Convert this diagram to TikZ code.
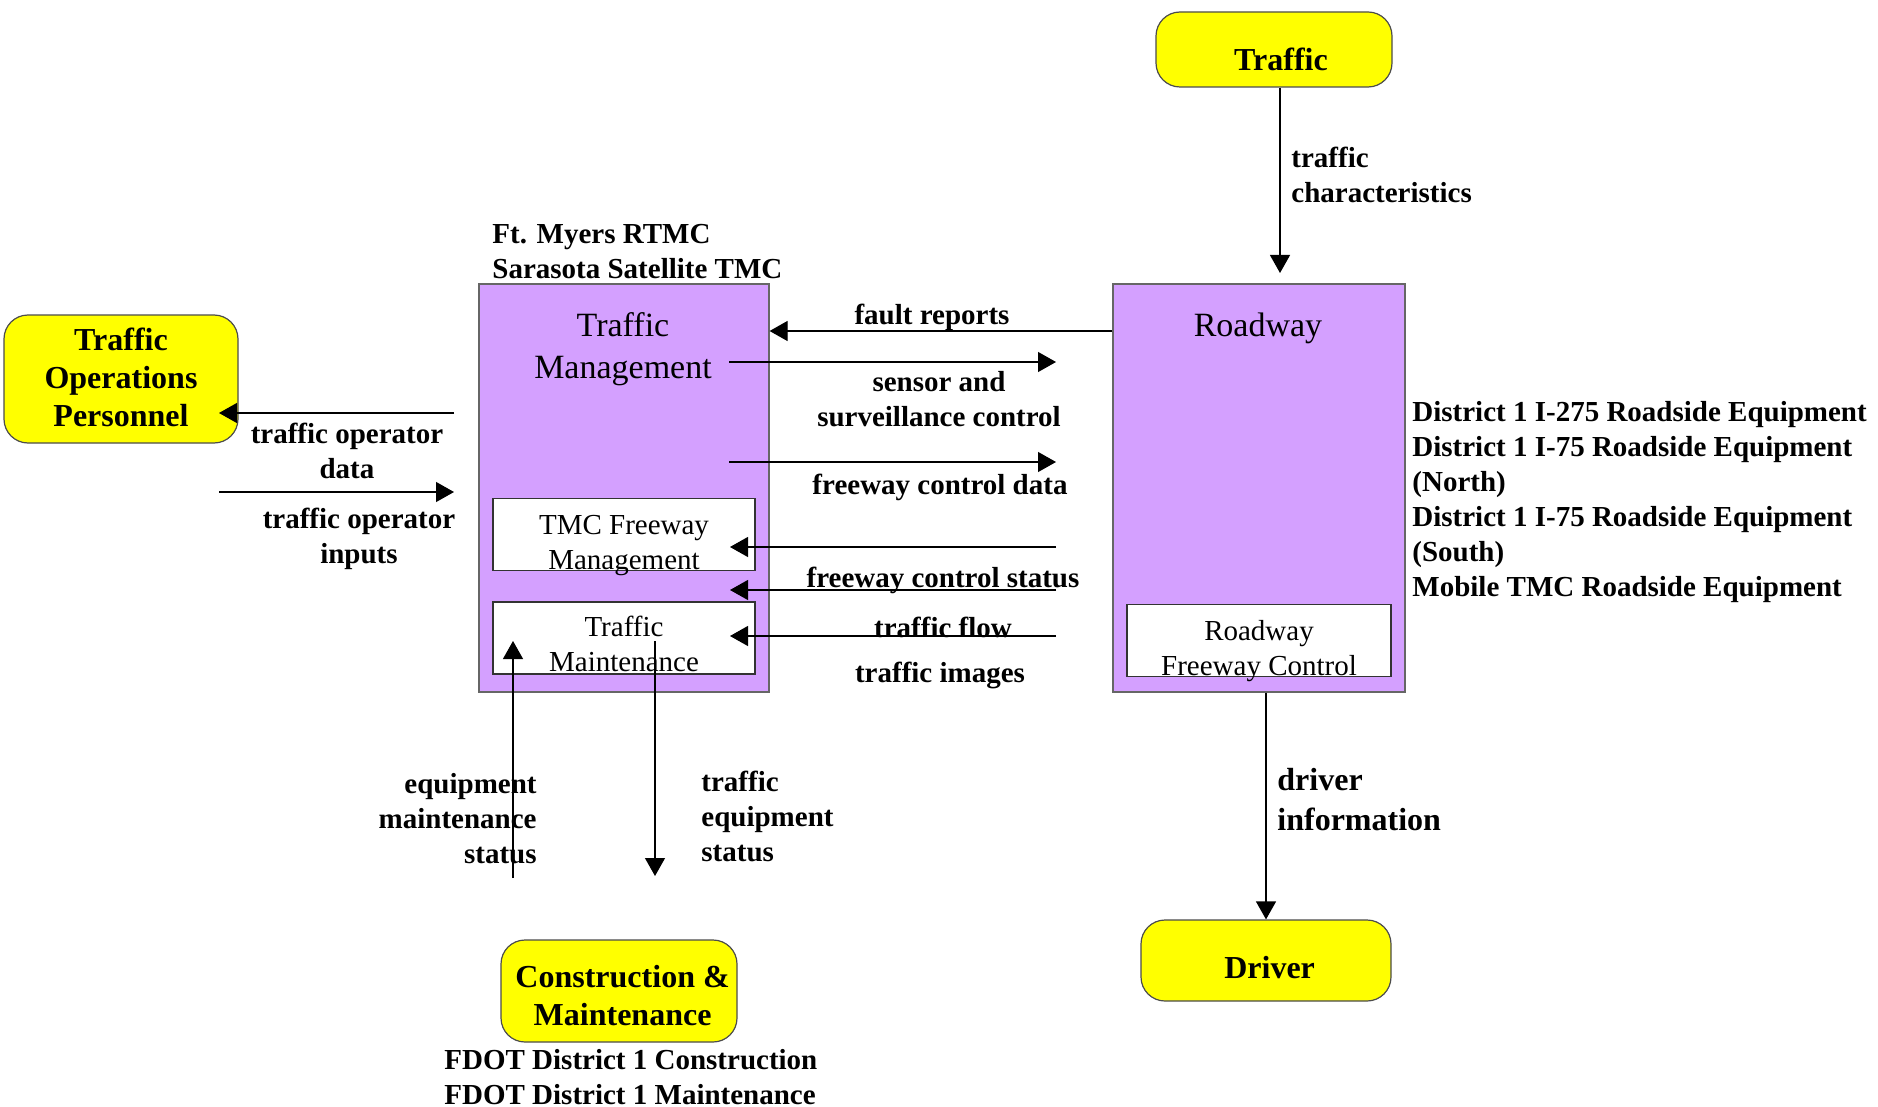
\documentclass[tikz,border=0pt]{standalone}
\usepackage{fontspec}
\setmainfont{Liberation Serif}
\usetikzlibrary{arrows.meta}

\definecolor{sysviolet}{RGB}{212,160,255}
\definecolor{termyellow}{RGB}{255,255,0}

\tikzset{
	flow/.style={line width=0.6pt, -{Triangle[length=9pt,width=10pt]}},
	sysbox/.style={draw=black!60, line width=0.6pt, fill=sysviolet, minimum width=145pt, minimum height=204pt},
	subbox/.style={draw=black!80, line width=0.6pt, fill=white, minimum width=131pt, minimum height=36pt, inner sep=0pt},
	subtext/.style={align=center, inner sep=0pt, font=\fontsize{14.5}{17.5}\selectfont},
	systitle/.style={align=center, inner sep=0pt, font=\fontsize{17}{21}\selectfont},
	term/.style={draw=black!70, line width=0.6pt, fill=termyellow, rounded corners=12pt, inner sep=2pt},
	termtext/.style={align=center, inner sep=0pt, font=\fontsize{16}{19}\selectfont\bfseries},
	flowlabel/.style={align=center, inner sep=0pt, font=\fontsize{14.5}{17.5}\selectfont\bfseries},
}

\begin{document}
\begin{tikzpicture}[x=0.5pt,y=-0.5pt]
	\useasboundingbox (0,0) rectangle (1878,1107);

	% terminators
	\node[term, minimum width=118pt, minimum height=37.5pt, label={[termtext, xshift=3.5pt, yshift=-5pt]center:Traffic}] (traffic) at (1274,49.5) {};
	\node[term, minimum width=117pt, minimum height=64pt, label={[termtext, yshift=1pt]center:Traffic\\Operations\\Personnel}] (oper) at (121,379) {};
	\node[term, minimum width=118pt, minimum height=51pt, label={[termtext, xshift=1.8pt, yshift=-2.5pt]center:Construction \&\\Maintenance}] (cons) at (619,991) {};
	\node[term, minimum width=125pt, minimum height=40.5pt, label={[termtext, xshift=1.8pt, yshift=-3.5pt]center:Driver}] (driver) at (1266,960.5) {};

	% subsystems
	\node[sysbox] (tm) at (624,488) {};
	\node[sysbox, minimum width=146pt] (road) at (1259,488) {};
	\node[systitle] (tmtitle) at (623,349) {Traffic\\Management};
	\node[systitle] (roadtitle) at (1258,328) {Roadway};
	\node[subbox, label={[subtext, yshift=-5.5pt]center:TMC Freeway\\Management}] (tmcfm) at (624,534.5) {};
	\node[subbox, label={[subtext, yshift=-3pt]center:Traffic\\Maintenance}] (tmaint) at (624,638) {};
	\node[subbox, minimum width=132pt, label={[subtext, yshift=-5.5pt]center:Roadway\\Freeway Control}] (rfc) at (1259,640.5) {};

	\node[flowlabel, align=left, anchor=west] (tmclist) at (492,252) {Ft. Myers RTMC\\Sarasota Satellite TMC};
	\node[flowlabel, align=left, anchor=west] (roadlist) at (1412,502) {District 1 I-275 Roadside Equipment\\District 1 I-75 Roadside Equipment\\(North)\\District 1 I-75 Roadside Equipment\\(South)\\Mobile TMC Roadside Equipment};
	\node[flowlabel, align=left, anchor=west] (conslist) at (444,1077) {FDOT District 1 Construction\\FDOT District 1 Maintenance};

	% free ends of the flows
	\coordinate (fr) at (0,331);
	\coordinate (ssc-a) at (729,362);  \coordinate (ssc-b) at (1056,362);
	\coordinate (fcd-a) at (729,462);  \coordinate (fcd-b) at (1056,462);
	\coordinate (fcs1-a) at (1056,547); \coordinate (fcs1-b) at (730,547);
	\coordinate (fcs2-a) at (1056,590); \coordinate (fcs2-b) at (730,590);
	\coordinate (tfl-a) at (1056,636); \coordinate (tfl-b) at (730,636);
	\coordinate (tod-a) at (454,413);  \coordinate (tod-b) at (219,413);
	\coordinate (toi-a) at (219,492);  \coordinate (toi-b) at (454,492);
	\coordinate (ems-a) at (513,878);  \coordinate (ems-b) at (513,641);
	\coordinate (tes-a) at (655,641);  \coordinate (tes-b) at (655,876);
	\coordinate (tch) at (1280,273);

	% flows
	\draw[flow] (road.west |- fr) -- (tm.east |- fr);
	\draw[flow] (ssc-a) -- (ssc-b);
	\draw[flow] (fcd-a) -- (fcd-b);
	\draw[flow] (fcs1-a) -- (fcs1-b);
	\draw[flow] (fcs2-a) -- (fcs2-b);
	\draw[flow] (tfl-a) -- (tfl-b);
	\draw[flow] (tod-a) -- (tod-b);
	\draw[flow] (toi-a) -- (toi-b);
	\draw[flow] (ems-a) -- (ems-b);
	\draw[flow] (tes-a) -- (tes-b);
	\draw[flow] (traffic.south -| tch) -- (tch);
	\draw[flow] (road.south -| driver.north) -- (driver.north);

	% flow labels
	\node[flowlabel] (fault) at (932,317) {fault reports};
	\node[flowlabel] (sensor) at (939,399) {sensor and\\surveillance control};
	\node[flowlabel] (fcdata) at (940,487) {freeway control data};
	\node[flowlabel] (fcstatus) at (943,580) {freeway control status};
	\node[flowlabel] (tflow) at (943,627) {traffic flow};
	\node[flowlabel] (timages) at (940,675) {traffic images};
	\node[flowlabel] (todata) at (347,451) {traffic operator\\data};
	\node[flowlabel] (toinputs) at (359,539) {traffic operator\\inputs};
	\node[flowlabel, align=left, anchor=west] (tchar) at (1291,175) {traffic\\characteristics};
	\node[flowlabel, align=right, anchor=east] (emstatus) at (537,819) {equipment\\maintenance\\status};
	\node[flowlabel, align=left, anchor=west] (testatus) at (701,816) {traffic\\equipment\\status};
	\node[flowlabel, align=left, anchor=west, font=\fontsize{16}{20}\selectfont\bfseries] (drvinfo) at (1277,800) {driver\\information};
\end{tikzpicture}
\end{document}
